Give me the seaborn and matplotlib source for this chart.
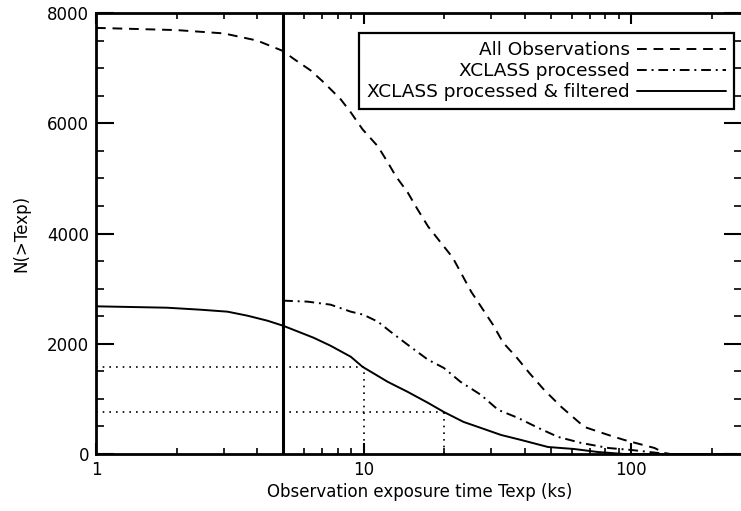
import numpy as np
import pandas as pd
import matplotlib
matplotlib.use("Agg")
import matplotlib.pyplot as plt
import seaborn as sns
from matplotlib.ticker import LogLocator, NullFormatter, FixedLocator, MultipleLocator

# ---- data ----
all_x = [1.0, 2.0, 3.0, 4.0, 5.0, 5.47, 6.33, 7.08, 8.2, 8.94, 9.9, 11.3, 12.3, 13.2,
         14.6, 15.9, 17.4, 19.4, 21.5, 25.2, 30.4, 33.2, 37.1, 41.5, 47.2, 54.7,
         66.7, 82.0, 94.0, 122.0, 133.0, 140.0, 260.0]
all_y = [7730, 7690, 7630, 7500, 7310, 7170, 6960, 6745, 6436, 6200, 5890, 5580, 5290, 5036,
         4745, 4436, 4127, 3836, 3563, 2945, 2345, 2018, 1763, 1473, 1164, 855,
         491, 345, 255, 109, 18, 0, 0]

proc_x = [5.0, 6.17, 7.52, 8.95, 9.97, 11.3, 12.6, 14.6, 17.4, 19.9, 23.0, 27.4, 31.8,
          37.7, 44.9, 53.3, 65.0, 82.0, 100.0, 126.0, 135.0, 260.0]
proc_y = [2782, 2764, 2709, 2582, 2527, 2400, 2218, 1982, 1709, 1563, 1309, 1073, 800,
          655, 473, 309, 200, 109, 73, 18, 0, 0]

filt_x = [1.0, 1.84, 2.45, 3.1, 3.68, 4.37, 5.0, 6.5, 7.52, 8.95, 9.9, 12.3, 14.6, 17.4,
          19.9, 23.6, 27.4, 32.6, 38.7, 48.8, 61.0, 75.0, 94.0, 260.0]
filt_y = [2679, 2654, 2618, 2582, 2509, 2418, 2327, 2109, 1964, 1764, 1582, 1309, 1127, 927,
          764, 582, 473, 345, 255, 127, 91, 36, 0, 0]

cut_x = 5.0
ref_x = [10, 20]
ref_y = [1580, 765]

labels = ["All Observations", "XCLASS processed", "XCLASS processed & filtered"]
x_ticks = [1, 10, 100]
y_ticks = [0, 2000, 4000, 6000, 8000]

# ---- figure ----
sns.set_style("ticks")
plt.rcParams["font.family"] = ["DejaVu Sans"]
plt.rcParams["font.size"] = 12
for k in ["text.color", "axes.labelcolor", "xtick.color", "ytick.color", "axes.edgecolor"]:
    plt.rcParams[k] = "black"

fig = plt.figure(figsize=(7.41, 5.11), dpi=100)
ax = fig.add_axes([96 / 741, 1 - 454 / 511, (741 - 96) / 741 + 0.002, (454 - 13) / 511])

lw = 1.4
sns.lineplot(x=all_x, y=all_y, ax=ax, color="black", lw=lw, label=labels[0],
             estimator=None, sort=False)
ax.lines[-1].set_dashes((5, 3.5))
sns.lineplot(x=proc_x, y=proc_y, ax=ax, color="black", lw=lw, label=labels[1],
             estimator=None, sort=False)
ax.lines[-1].set_dashes((5, 2.5, 1, 2.5))
sns.lineplot(x=filt_x, y=filt_y, ax=ax, color="black", lw=lw, label=labels[2],
             estimator=None, sort=False)

ax.axvline(cut_x, color="black", lw=2.2)
for rx, ry in zip(ref_x, ref_y):
    ax.plot([1, rx], [ry, ry], color="black", lw=1.2, ls=(0, (1, 3)))
    ax.plot([rx, rx], [0, ry], color="black", lw=1.2, ls=(0, (1, 3)))

ax.set_xscale("log")
ax.set_xlim(1, 260)
ax.set_ylim(0, 8000)
ax.xaxis.set_major_locator(FixedLocator(x_ticks))
ax.set_xticklabels([str(t) for t in x_ticks])
ax.xaxis.set_minor_locator(LogLocator(base=10, subs=np.arange(2, 10)))
ax.xaxis.set_minor_formatter(NullFormatter())
ax.yaxis.set_major_locator(FixedLocator(y_ticks))
ax.set_yticklabels([str(t) for t in y_ticks])
ax.yaxis.set_minor_locator(MultipleLocator(500))

ax.tick_params(which="both", direction="in", top=True, right=True, color="black")
ax.tick_params(axis="y", which="major", length=13, width=1.5, pad=5)
ax.tick_params(axis="y", which="minor", length=6, width=1.2)
ax.tick_params(axis="x", which="major", length=8, width=1.5, pad=5)
ax.tick_params(axis="x", which="minor", length=4, width=1.2)
for s in ax.spines.values():
    s.set_linewidth(2)
    s.set_color("black")

ax.set_xlabel("Observation exposure time Texp (ks)", fontsize=12, labelpad=3)
ax.set_ylabel("N(>Texp)", fontsize=12, labelpad=12)

leg = ax.legend(loc="upper right", bbox_to_anchor=(0.9875, 0.955), markerfirst=False,
                frameon=True, fancybox=False, edgecolor="black", framealpha=1,
                fontsize=13.3, handlelength=4.8, handletextpad=0.4, borderpad=0.45,
                labelspacing=0.16, borderaxespad=0)
leg.get_frame().set_linewidth(1.6)
for t in leg.get_texts():
    t.set_ha("right")
leg._legend_box.align = "right"

fig.savefig("out.png", dpi=100)
